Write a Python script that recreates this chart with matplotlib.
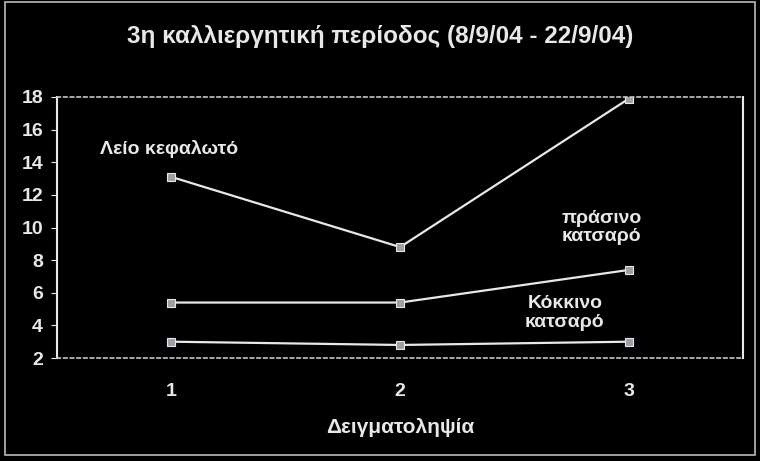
import matplotlib.pyplot as plt
from matplotlib.patches import Rectangle

# data
samples = [1, 2, 3]
leio_kefaloto = [13.1, 8.8, 17.9]
prasino_katsaro = [5.4, 5.4, 7.4]
kokkino_katsaro = [3.0, 2.8, 3.0]
yticks = [2, 4, 6, 8, 10, 12, 14, 16, 18]

plt.rcParams['font.family'] = ['Liberation Sans', 'DejaVu Sans']
plt.rcParams['font.weight'] = 'bold'

fig = plt.figure(figsize=(7.6, 4.61), dpi=100, facecolor='black')
ax = fig.add_axes([0.075, 0.2234, 0.903, 0.5662], facecolor='black')

fg = '#e8e8e8'
for ys in (leio_kefaloto, prasino_katsaro, kokkino_katsaro):
    ax.plot(samples, ys, color=fg, lw=1.6, marker='s', ms=6,
            mfc='#9aa0a8', mec=fg, mew=0.8)

ax.set_xlim(0.5, 3.5)
ax.set_ylim(2, 18)
ax.set_xticks(samples)
ax.set_yticks(yticks)
ax.tick_params(colors=fg, labelsize=14, length=4, direction='out')
ax.tick_params(axis='y', pad=6)
ax.tick_params(axis='x', length=0, pad=18)
for lab in ax.get_xticklabels() + ax.get_yticklabels():
    lab.set_fontweight('bold')

ax.spines['left'].set_color(fg)
ax.spines['left'].set_linewidth(1.5)
ax.spines['right'].set_color(fg)
ax.spines['right'].set_linewidth(1.5)
for s in ('top', 'bottom'):
    ax.spines[s].set_color('#c8c8c8')
    ax.spines[s].set_linestyle((0, (2, 2)))
    ax.spines[s].set_linewidth(1.2)

ax.text(0.99, 14.8, 'Λείο κεφαλωτό', color=fg, fontsize=14,
        fontweight='bold', ha='center', va='center')
ax.text(2.88, 10.0, 'πράσινο\nκατσαρό', color=fg, fontsize=14,
        fontweight='bold', ha='center', va='center', linespacing=1.15)
ax.text(2.72, 4.75, 'Κόκκινο\nκατσαρό', color=fg, fontsize=14,
        fontweight='bold', ha='center', va='center', linespacing=1.15)

ax.set_xlabel('Δειγματοληψία', color=fg, fontsize=15, fontweight='bold',
              labelpad=13)
fig.suptitle('3η καλλιεργητική περίοδος (8/9/04 - 22/9/04)', color=fg,
             fontsize=17.5, fontweight='bold', y=0.945)

# outer chart frame
fig.patches.append(Rectangle((0.006, 0.012), 0.988, 0.983,
                             transform=fig.transFigure, fill=False,
                             ec='#bbbbbb', lw=1.2))

fig.savefig('out.png', dpi=100, facecolor='black')
